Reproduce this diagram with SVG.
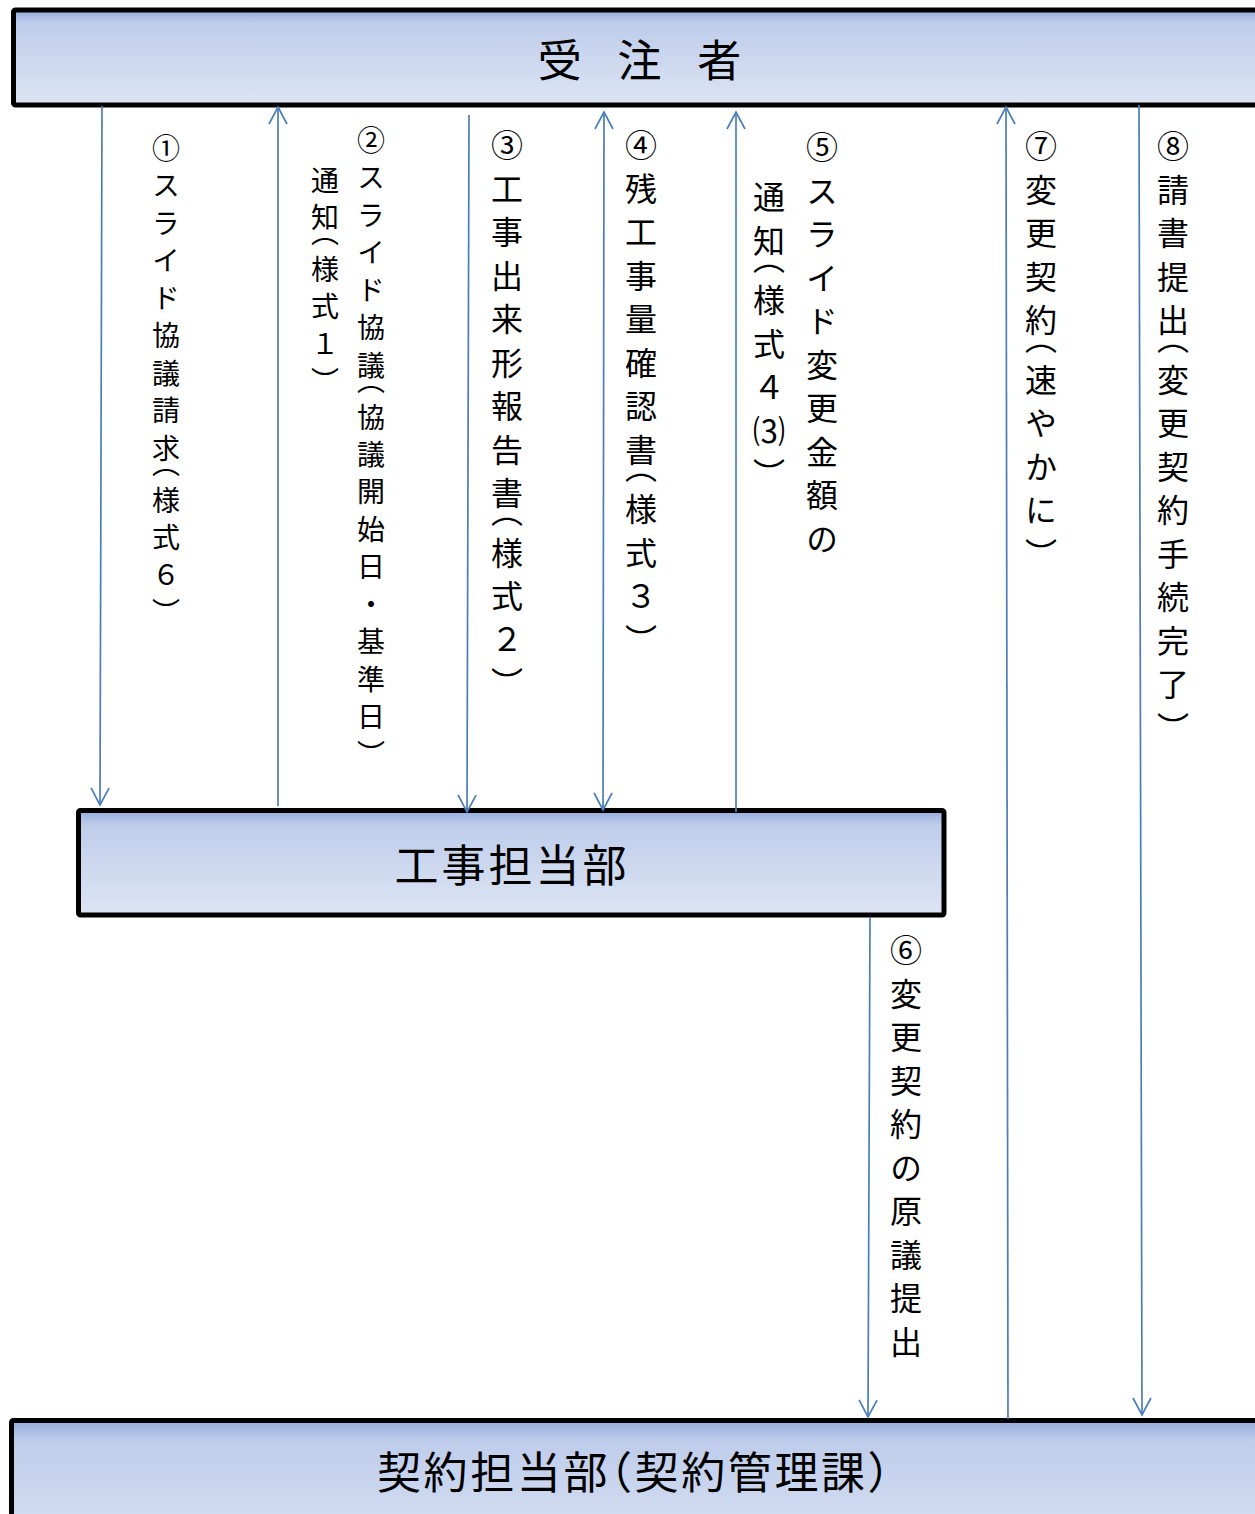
<svg xmlns="http://www.w3.org/2000/svg" width="1255" height="1514" viewBox="0 0 1255 1514">
<style>
.box{fill:url(#g);stroke:#000;stroke-width:5}
.title{font-family:"Noto Sans CJK JP","Noto Sans",sans-serif;font-size:44px;fill:#000;dominant-baseline:central;text-anchor:middle}
.v{font-family:"Noto Sans CJK JP","Noto Sans",sans-serif;fill:#000;writing-mode:vertical-rl}
.s28{font-size:28px;letter-spacing:9.5px}
.s32{font-size:32px;letter-spacing:11.5px}
.p{font-feature-settings:"vhal" 1;letter-spacing:0}
.h{font-feature-settings:"halt" 1}
.c line{stroke:#4a7ebb;stroke-width:1.7;fill:none}
</style>
<defs>
<linearGradient id="g" x1="0" y1="0" x2="0" y2="1">
<stop offset="0" stop-color="#93acdd"/>
<stop offset="0.14" stop-color="#bfcdeb"/>
<stop offset="1" stop-color="#dde5f4"/>
</linearGradient>
<marker id="ah" viewBox="0 0 20 20" refX="18" refY="10" markerWidth="20" markerHeight="20" markerUnits="userSpaceOnUse" orient="auto-start-reverse">
<path d="M1,1 L18,10 L1,19" fill="none" stroke="#4a7ebb" stroke-width="1.7"/>
</marker>
</defs>
<rect width="1255" height="1514" fill="#fff"/>
<g id="n-jutyusha">
<rect class="box" x="13.5" y="10" width="1300" height="95" rx="2"/>
<text class="title" x="646" y="58" style="letter-spacing:13px">受 注 者</text>
</g>
<g id="n-kouji">
<rect class="box" x="78.5" y="810.5" width="865.5" height="104.5" rx="2"/>
<text class="title" x="512" y="863" style="letter-spacing:3px">工事担当部</text>
</g>
<g id="n-keiyaku">
<rect class="box" x="11.5" y="1420.5" width="1300" height="150" rx="2"/>
<text class="title" x="377" y="1470" style="letter-spacing:2.6px;text-anchor:start">契約担当部<tspan class="h">（</tspan>契約管理課<tspan class="h">）</tspan></text>
</g>
<g id="connectors" class="c">
<line x1="102" y1="106" x2="100" y2="805" marker-end="url(#ah)"/>
<line x1="278" y1="806" x2="278" y2="107" marker-end="url(#ah)"/>
<line x1="469" y1="115" x2="467" y2="812" marker-end="url(#ah)"/>
<line x1="604" y1="112" x2="603" y2="810" marker-start="url(#ah)" marker-end="url(#ah)"/>
<line x1="736" y1="812" x2="736" y2="112" marker-end="url(#ah)"/>
<line x1="870" y1="917" x2="868" y2="1417" marker-end="url(#ah)"/>
<line x1="1008" y1="1419" x2="1006" y2="107" marker-end="url(#ah)"/>
<line x1="1139" y1="105" x2="1142" y2="1415" marker-end="url(#ah)"/>
</g>
<g id="labels">
<text class="v s28" x="166" y="134">①スライド協議請求<tspan class="p" dy="-9">（</tspan><tspan dy="9">様</tspan>式６）</text>
<text class="v s28" x="371" y="126">②スライド協議<tspan class="p" dy="-9">（</tspan><tspan dy="9">協</tspan>議開始日・基準日）</text>
<text class="v s28" x="325" y="166">通知<tspan class="p" dy="-9">（</tspan><tspan dy="9">様</tspan>式１）</text>
<text class="v s32" x="507" y="129">③工事出来形報告書<tspan class="p" dy="-10">（</tspan><tspan dy="10">様</tspan>式２）</text>
<text class="v s32" x="641" y="129">④残工事量確認書<tspan class="p" dy="-10">（</tspan><tspan dy="10">様</tspan>式３）</text>
<text class="v s32" x="822" y="131">⑤スライド変更金額の</text>
<text class="v s32" x="769" y="181">通知<tspan class="p" dy="-10">（</tspan><tspan dy="10">様</tspan>式４⑶）</text>
<text class="v s32" x="906" y="934">⑥変更契約の原議提出</text>
<text class="v s32" x="1041" y="130">⑦変更契約<tspan class="p" dy="-10">（</tspan><tspan dy="10">速</tspan>やかに）</text>
<text class="v s32" x="1173" y="130">⑧請書提出<tspan class="p" dy="-10">（</tspan><tspan dy="10">変</tspan>更契約手続完了）</text>
</g>
</svg>
